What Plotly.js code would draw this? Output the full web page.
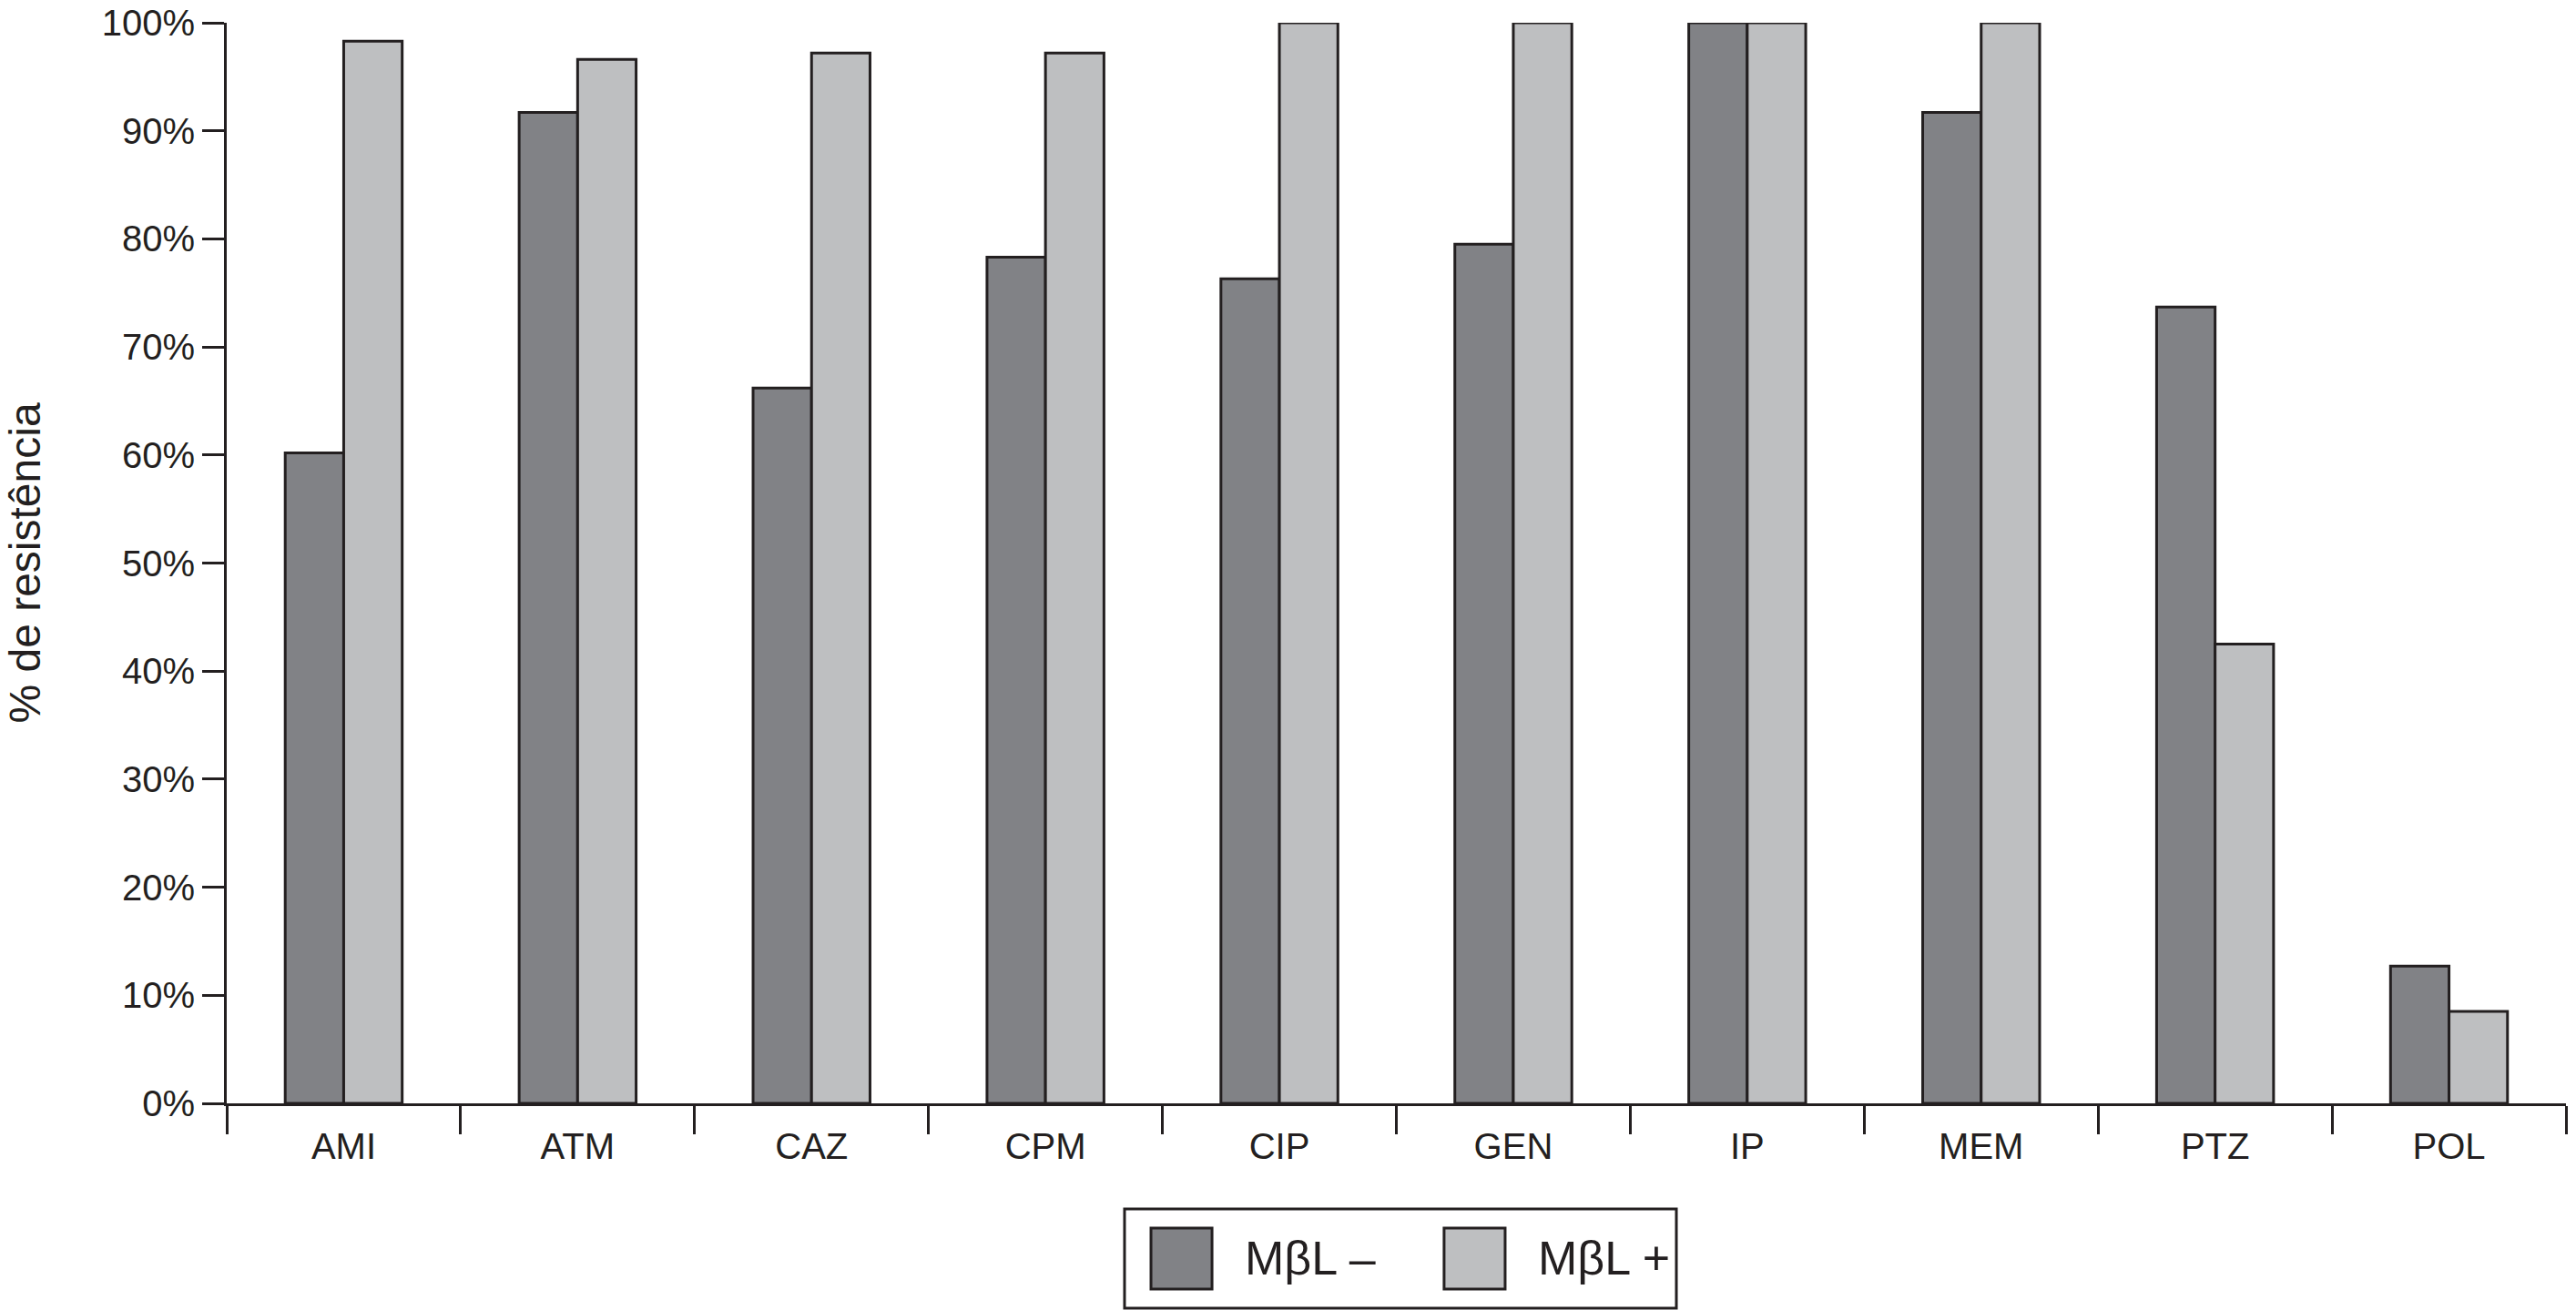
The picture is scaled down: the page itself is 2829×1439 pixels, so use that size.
<!DOCTYPE html>
<html>
<head>
<meta charset="utf-8">
<script src="https://cdn.plot.ly/plotly-3.0.1.min.js"></script>
<style>
  html, body { margin: 0; padding: 0; background: #ffffff; }
  #chart { width: 2829px; height: 1439px; }
</style>
</head>
<body>
<div id="chart"></div>
<script>
// ---- Data ----
const categories = ['AMI', 'ATM', 'CAZ', 'CPM', 'CIP', 'GEN', 'IP', 'MEM', 'PTZ', 'POL'];
const seriesNames = ['M\u03B2L \u2013', 'M\u03B2L +'];
const mblNeg = [60.2, 91.7, 66.2, 78.3, 76.3, 79.5, 100, 91.7, 73.7, 12.7];
const mblPos = [98.3, 96.6, 97.2, 97.2, 100, 100, 100, 100, 42.5, 8.5];
const yTickVals = [0, 10, 20, 30, 40, 50, 60, 70, 80, 90, 100];
const yTickText = ['0%', '10%', '20%', '30%', '40%', '50%', '60%', '70%', '80%', '90%', '100%'];
const yTitle = '% de resistência';

// ---- Style ----
const ink = '#231f20';
const darkFill = '#818286';
const lightFill = '#bebfc1';
const fontFamily = '"Liberation Sans", Arial, Helvetica, sans-serif';

const traces = [
  {
    type: 'bar', name: seriesNames[0], x: categories, y: mblNeg,
    marker: { color: darkFill, line: { color: ink, width: 3 } },
    showlegend: false, hoverinfo: 'x+y'
  },
  {
    type: 'bar', name: seriesNames[1], x: categories, y: mblPos,
    marker: { color: lightFill, line: { color: ink, width: 3 } },
    showlegend: false, hoverinfo: 'x+y'
  }
];

// Custom legend (boxed, with large swatches) in paper coordinates
const legendShapes = [
  { type: 'rect', xref: 'paper', yref: 'paper', x0: 0.3838, x1: 0.6197, y0: -0.1896, y1: -0.0977,
    line: { color: ink, width: 3 }, fillcolor: '#ffffff', layer: 'above' },
  { type: 'rect', xref: 'paper', yref: 'paper', x0: 0.3951, x1: 0.4212, y0: -0.1719, y1: -0.1154,
    line: { color: ink, width: 3 }, fillcolor: darkFill, layer: 'above' },
  { type: 'rect', xref: 'paper', yref: 'paper', x0: 0.5204, x1: 0.5465, y0: -0.1719, y1: -0.1154,
    line: { color: ink, width: 3 }, fillcolor: lightFill, layer: 'above' }
];
const legendText = [
  { xref: 'paper', yref: 'paper', x: 0.4344, y: -0.1432, xanchor: 'left', yanchor: 'middle',
    text: seriesNames[0], showarrow: false, font: { family: fontFamily, size: 52, color: ink } },
  { xref: 'paper', yref: 'paper', x: 0.5597, y: -0.1432, xanchor: 'left', yanchor: 'middle',
    text: seriesNames[1], showarrow: false, font: { family: fontFamily, size: 52, color: ink } }
];

const layout = {
  width: 2829, height: 1439,
  margin: { l: 249, r: 11, t: 25, b: 227, pad: 0 },
  paper_bgcolor: '#ffffff', plot_bgcolor: '#ffffff',
  font: { family: fontFamily, size: 40, color: ink },
  barmode: 'group', bargap: 0.5, bargroupgap: 0,
  showlegend: false,
  xaxis: {
    type: 'category', range: [-0.5, 9.5], fixedrange: true,
    tickson: 'boundaries', ticks: 'outside', ticklen: 31, tickwidth: 3, tickcolor: ink,
    showline: true, linecolor: ink, linewidth: 3, showgrid: false, zeroline: false,
    tickfont: { family: fontFamily, size: 40, color: ink },
    ticklabelstandoff: 10,
    automargin: false
  },
  yaxis: {
    range: [0, 100], fixedrange: true,
    tickmode: 'array', tickvals: yTickVals, ticktext: yTickText,
    ticks: 'outside', ticklen: 24, tickwidth: 3, tickcolor: ink,
    showline: true, linecolor: ink, linewidth: 3, showgrid: false, zeroline: false,
    tickfont: { family: fontFamily, size: 40, color: ink },
    title: { text: yTitle, font: { family: fontFamily, size: 48, color: ink }, standoff: 52 },
    automargin: false
  },
  shapes: legendShapes,
  annotations: legendText
};

Plotly.newPlot('chart', traces, layout, { displayModeBar: false, staticPlot: true });
</script>
</body>
</html>
